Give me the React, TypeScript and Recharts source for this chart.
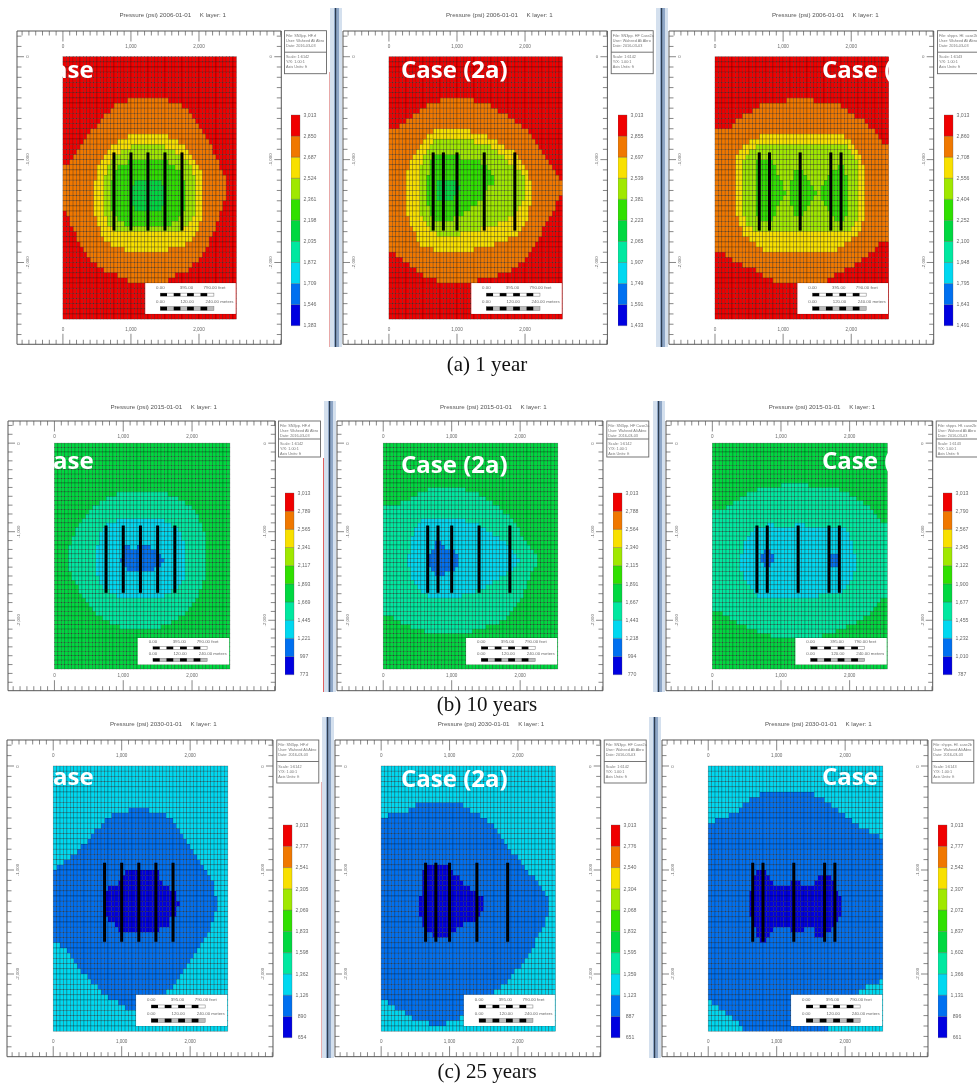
import React from "react";
import { ScatterChart, Scatter, XAxis, YAxis, ReferenceLine, ReferenceArea, BarChart, Bar } from "recharts";

type Region = { level: number; from: number; spans: number[][] };

const levelColors = ["#0000e0", "#0070f0", "#00d8f0", "#00e8a0", "#00d840", "#30e000", "#a0e800", "#f8e000", "#f07800", "#f00000"];
const levelKeys = ["l0", "l1", "l2", "l3", "l4", "l5", "l6", "l7", "l8", "l9"];
const xTicks = [-600,-500,-400,-300,-200,-100,0,100,200,300,400,500,600,700,800,900,1000,1100,1200,1300,1400,1500,1600,1700,1800,1900,2000,2100,2200,2300,2400,2500,2600,2700,2800,2900,3000,3100,3200];
const yTicks = [200,100,0,-100,-200,-300,-400,-500,-600,-700,-800,-900,-1000,-1100,-1200,-1300,-1400,-1500,-1600,-1700,-1800,-1900,-2000,-2100,-2200,-2300,-2400,-2500,-2600,-2700];
const xLabelled = [0, 1000, 2000];

const wellsCase1 = [750, 1000, 1250, 1500, 1750];
const wellsCase2a = [650, 800, 1000, 1400, 1850];
const wellsCase2b = [650, 800, 1250, 1700, 1850];

const legendA1 = ["1,383","1,546","1,709","1,872","2,035","2,198","2,361","2,524","2,687","2,850","3,013"];
const legendA2 = ["1,433","1,591","1,749","1,907","2,065","2,223","2,381","2,539","2,697","2,855","3,013"];
const legendA3 = ["1,491","1,643","1,795","1,948","2,100","2,252","2,404","2,556","2,708","2,860","3,013"];
const legendB1 = ["773","997","1,221","1,445","1,669","1,893","2,117","2,341","2,565","2,789","3,013"];
const legendB2 = ["770","994","1,218","1,443","1,667","1,891","2,115","2,340","2,564","2,788","3,013"];
const legendB3 = ["787","1,010","1,232","1,455","1,677","1,900","2,122","2,345","2,567","2,790","3,013"];
const legendC1 = ["654","890","1,126","1,362","1,598","1,833","2,069","2,305","2,541","2,777","3,013"];
const legendC2 = ["651","887","1,123","1,359","1,595","1,832","2,068","2,304","2,540","2,776","3,013"];
const legendC3 = ["661","896","1,131","1,366","1,602","1,837","2,072","2,307","2,542","2,777","3,013"];

const regionsA1: Region[] = [
  { level: 8, from: 8, spans: [[19,30],[15,34],[14,36],[12,37],[11,38],[10,39],[8,40],[7,41],[6,42],[5,43],[4,43],[3,44],[2,45],[0,45],[0,46],[0,47],[0,47],[0,47],[0,47],[0,47],[0,46],[0,46],[1,45],[2,45],[2,44],[3,44],[4,43],[4,42],[5,42],[6,41],[7,40],[8,39],[10,37],[12,36],[16,32],[19,30]] },
  { level: 7, from: 15, spans: [[19,30],[16,33],[14,35],[13,36],[12,37],[11,38],[10,39],[10,40],[10,40],[9,40],[9,40],[9,40],[9,40],[9,40],[9,40],[9,40],[10,40],[10,39],[11,39],[11,38],[12,37],[14,35],[18,30]] },
  { level: 6, from: 17, spans: [[20,29],[17,32],[15,34],[14,36],[13,37],[13,37],[12,38],[12,38],[12,38],[12,38],[12,38],[12,38],[12,38],[12,38],[13,37],[13,36],[15,34]] },
  { level: 5, from: 20, spans: [[19,30],[16,32],[15,34],[15,34],[14,35],[14,35],[14,35],[14,35],[14,35],[14,35],[15,34],[16,33],[18,31]] },
  { level: 4, from: 24, spans: [[21,28],[20,29],[20,29],[20,29],[20,29],[21,28]] },
];
const regionsA2: Region[] = [
  { level: 8, from: 8, spans: [[15,24],[11,29],[9,31],[7,34],[5,36],[3,38],[0,40],[0,41],[0,42],[0,43],[0,44],[0,45],[0,46],[0,47],[0,48],[0,49],[0,50],[0,50],[0,50],[0,49],[0,48],[0,48],[0,47],[0,46],[0,45],[0,44],[0,44],[0,43],[0,42],[0,41],[2,40],[4,39],[6,37],[8,35],[10,31],[14,25]] },
  { level: 7, from: 14, spans: [[13,23],[11,28],[10,31],[9,33],[8,36],[7,37],[6,38],[6,39],[5,40],[5,40],[5,41],[5,41],[5,41],[5,41],[5,41],[5,40],[5,40],[6,40],[6,39],[7,38],[8,37],[8,34],[9,30],[13,24]] },
  { level: 6, from: 16, spans: [[13,24],[12,29],[11,31],[10,33],[10,34],[9,36],[9,38],[9,39],[9,39],[9,39],[9,39],[9,39],[9,38],[9,37],[9,36],[10,34],[11,31],[12,26],[14,20]] },
  { level: 5, from: 19, spans: [[13,20],[12,26],[12,28],[12,29],[11,30],[11,30],[11,28],[11,27],[11,27],[11,25],[12,23],[12,21],[13,18]] },
  { level: 4, from: 24, spans: [[14,19],[14,20],[14,19],[14,18]] },
];
const regionsA3: Region[] = [
  { level: 8, from: 8, spans: [[21,28],[13,36],[11,38],[8,40],[6,43],[5,44],[0,46],[0,47],[0,48],[0,50],[0,50],[0,50],[0,50],[0,50],[0,50],[0,50],[0,50],[0,50],[0,50],[0,50],[0,50],[0,50],[0,50],[0,50],[0,50],[0,50],[0,50],[0,50],[0,47],[0,46],[3,44],[5,42],[8,40],[12,37],[14,34],[17,32]] },
  { level: 7, from: 15, spans: [[13,37],[10,39],[8,40],[7,41],[6,42],[6,42],[6,43],[6,43],[6,43],[6,43],[6,43],[6,43],[6,43],[6,43],[6,43],[6,43],[7,43],[7,42],[8,42],[8,41],[10,39],[12,37],[14,35]] },
  { level: 6, from: 17, spans: [[12,38],[10,39],[9,40],[8,41],[8,41],[8,41],[8,41],[8,41],[8,41],[8,41],[8,41],[8,41],[8,41],[8,41],[9,41],[9,40],[11,39]] },
  { level: 5, from: 20, spans: [[12,16],[12,17,36,37],[12,17,23,25,34,37],[12,18,23,26,33,38],[12,19,22,27,32,38],[12,19,22,28,31,38],[12,20,22,29,31,38],[12,19,22,28,31,38],[12,18,22,27,32,38],[12,17,23,26,33,38],[12,17,23,25,34,38],[13,16,35,37]] },
];
const regionsB1: Region[] = [
  { level: 3, from: 11, spans: [[18,32],[15,35],[13,37],[11,39],[10,40],[9,41],[8,41],[7,42],[6,42],[6,43],[5,43],[5,43],[4,43],[4,43],[4,43],[4,43],[4,43],[4,43],[5,43],[5,43],[6,42],[7,42],[7,41],[8,41],[9,40],[10,39],[11,38],[12,37],[14,35],[16,33],[19,30]] },
  { level: 2, from: 17, spans: [[18,31],[15,33],[14,35],[13,36],[13,36],[13,37],[12,37],[12,37],[12,37],[12,37],[12,37],[12,37],[12,37],[13,37],[13,36],[14,35],[16,33],[18,31]] },
  { level: 1, from: 23, spans: [[20,21,24,27],[20,29],[20,30],[19,31],[20,30],[21,28]] },
];
const regionsB2: Region[] = [
  { level: 3, from: 10, spans: [[13,23],[10,27],[8,29],[5,31],[0,33],[0,34],[0,36],[0,37],[0,38],[0,39],[0,39],[0,40],[0,41],[0,42],[0,43],[0,44],[0,44],[0,44],[0,43],[0,42],[0,42],[0,41],[0,41],[0,40],[0,40],[0,39],[0,38],[0,37],[0,36],[3,35],[5,33],[8,29],[12,25]] },
  { level: 2, from: 17, spans: [[11,23],[10,27],[9,29],[9,31],[8,33],[8,35],[8,36],[8,37],[7,38],[7,39],[7,38],[8,37],[8,35],[8,33],[9,31],[10,29],[11,26],[13,22]] },
  { level: 1, from: 22, spans: [[15,16],[15,17],[14,20],[13,21],[13,21],[13,21],[14,20],[15,17]] },
];
const regionsB3: Region[] = [
  { level: 3, from: 9, spans: [[20,27],[13,36],[10,39],[8,41],[6,43],[4,45],[0,46],[0,47],[0,48],[0,50],[0,50],[0,50],[0,50],[0,50],[0,50],[0,50],[0,50],[0,50],[0,50],[0,50],[0,50],[0,50],[0,50],[0,50],[0,50],[0,50],[0,48],[0,47],[0,46],[3,45],[5,43],[7,41],[10,38],[13,35],[17,31]] },
  { level: 2, from: 18, spans: [[16,17,24,26],[12,38],[11,39],[10,39],[9,40],[9,40],[9,40],[8,41],[8,41],[8,41],[8,41],[9,40],[9,40],[10,39],[11,38],[12,37],[13,30]] },
  { level: 1, from: 24, spans: [[15,16],[14,17,34,36],[14,17,34,36],[15,16,34,36]] },
];
const regionsC1: Region[] = [
  { level: 1, from: 8, spans: [[22,27],[17,32],[15,34],[14,35],[12,36],[11,37],[10,38],[8,39],[7,40],[5,41],[3,42],[1,43],[0,44],[0,45],[0,46],[0,46],[0,46],[0,47],[0,47],[0,47],[0,46],[0,46],[0,45],[0,45],[0,44],[0,43],[2,42],[4,41],[5,40],[6,39],[7,38],[8,37],[10,36],[11,35],[13,34],[14,32],[16,30],[19,29],[21,26]] },
  { level: 0, from: 20, spans: [[21,30],[20,30],[19,31],[16,33],[15,35],[15,35],[15,36],[15,35],[15,35],[16,33],[18,33],[19,30]] },
];
const regionsC2: Region[] = [
  { level: 1, from: 7, spans: [[10,23],[8,25],[2,28],[0,30],[0,32],[0,33],[0,34],[0,35],[0,36],[0,37],[0,39],[0,40],[0,41],[0,42],[0,44],[0,45],[0,46],[0,47],[0,48],[0,48],[0,48],[0,48],[0,47],[0,47],[0,46],[0,45],[0,44],[0,44],[0,43],[0,42],[0,41],[0,40],[0,38],[0,37],[0,36],[0,34],[0,32],[0,30],[2,28],[4,26],[7,25],[9,22],[14,18]] },
  { level: 0, from: 19, spans: [[13,19],[12,20],[12,22],[12,23],[12,25],[12,27],[11,29],[11,29],[11,29],[11,28],[12,27],[12,23],[13,21],[15,19]] },
];
const regionsC3: Region[] = [
  { level: 1, from: 5, spans: [[15,30],[12,33],[10,35],[9,37],[6,39],[2,41],[0,43],[0,46],[0,49],[0,50],[0,50],[0,50],[0,50],[0,50],[0,50],[0,50],[0,50],[0,50],[0,50],[0,50],[0,50],[0,50],[0,50],[0,50],[0,50],[0,50],[0,50],[0,50],[0,50],[0,50],[0,50],[0,50],[0,50],[0,50],[0,50],[0,50],[0,49],[0,45],[0,43],[0,42],[1,40],[3,40],[5,40],[7,40],[9,34],[10,34]] },
  { level: 0, from: 20, spans: [[14,16],[13,17,32,35],[13,18,24,26,31,36],[13,36],[12,37],[12,38],[12,38],[12,38],[12,38],[13,37],[13,36],[14,18,24,27,31,35],[14,17,31,33],[15,16]] },
];

const X_DOMAIN = [-675, 3210];
const Y_DOMAIN = [-2795, 250];
const INK = "#555";
const LABEL = "#6a6a6a";
const SANS = "'Liberation Sans', Arial, sans-serif";

function expand(background: number, regions: Region[]) {
  const grid: number[][] = [];
  for (let r = 0; r < 51; r++) grid.push(new Array(51).fill(background));
  regions.forEach((reg) => {
    reg.spans.forEach((row, i) => {
      for (let k = 0; k < row.length; k += 2) {
        for (let c = row[k]; c <= row[k + 1]; c++) grid[reg.from + i][c] = reg.level;
      }
    });
  });
  const byLevel: { x: number; y: number }[][] = levelColors.map(() => []);
  grid.forEach((row, r) => row.forEach((lvl, c) => byLevel[lvl].push({ x: (c + 0.5) * 50, y: -(r + 0.5) * 50 })));
  return byLevel;
}

const fmt = (v: number) => v.toLocaleString("en-US");

function ScaleBox(p: any) {
  const { x, y, width: w, height: h } = p;
  const fs = 4.4;
  const bar1 = [0, 1, 2, 3, 4, 5, 6, 7];
  const sx = w / 90;
  const sy = h / 30.7;
  const bx = x + 15 * sx;
  const bw = 53.3 * sx;
  return (
    <g fontFamily={SANS}>
      <rect x={x} y={y} width={w} height={h} fill="#fff" />
      <text x={x + 15 * sx} y={y + 5.8 * sy} fontSize={fs} fill={LABEL} textAnchor="middle">0.00</text>
      <text x={x + 41 * sx} y={y + 5.8 * sy} fontSize={fs} fill={LABEL} textAnchor="middle">395.00</text>
      <text x={x + 58 * sx} y={y + 5.8 * sy} fontSize={fs} fill={LABEL}>790.00 feet</text>
      <rect x={bx} y={y + 10 * sy} width={bw} height={3 * sy} fill="#fff" stroke="#777" strokeWidth={0.5} />
      {bar1.filter((i) => i % 2 === 0).map((i) => (
        <rect key={i} x={bx + (i * bw) / 8} y={y + 10 * sy} width={bw / 8} height={3 * sy} fill="#000" />
      ))}
      <text x={x + 15 * sx} y={y + 19.8 * sy} fontSize={fs} fill={LABEL} textAnchor="middle">0.00</text>
      <text x={x + 41.7 * sx} y={y + 19.8 * sy} fontSize={fs} fill={LABEL} textAnchor="middle">120.00</text>
      <text x={x + 60 * sx} y={y + 19.8 * sy} fontSize={fs} fill={LABEL}>240.00 meters</text>
      <rect x={bx} y={y + 23.5 * sy} width={bw} height={3.6 * sy} fill="#bbb" stroke="#777" strokeWidth={0.5} />
      {bar1.filter((i) => i % 2 === 0).map((i) => (
        <rect key={i} x={bx + (i * bw) / 8} y={y + 23.5 * sy} width={bw / 8} height={3.6 * sy} fill="#000" />
      ))}
    </g>
  );
}

type PanelProps = {
  left: number; right: number; top: number; bottom: number;
  background: number; regions: Region[]; wells: number[]; legend: string[];
  legendTop: number; legendBottom: number; date: string;
  file: string; scale: string; caseLabel: string; caseX: number; caseY: number; titleTop: number;
  infoHeight: number;
};

function Panel(p: PanelProps) {
  const W = p.right - p.left;
  const H = p.bottom - p.top;
  const cw = (50 * W) / (X_DOMAIN[1] - X_DOMAIN[0]);
  const ch = (50 * H) / (Y_DOMAIN[1] - Y_DOMAIN[0]);
  const byLevel = expand(p.background, p.regions);
  const ax = { xAxisId: "b", yAxisId: "l" };
  const xTick = (edge: "top" | "bottom") => (t: any) => {
    const v = t.payload.value;
    const labelled = xLabelled.includes(v);
    const y0 = edge === "top" ? 1 : H + 1;
    const dir = edge === "top" ? 1 : -1;
    return (
      <g>
        <line x1={t.x} x2={t.x} y1={y0} y2={y0 + dir * (labelled ? 10.5 : 4.5)} stroke={INK} strokeWidth={0.7} />
        {labelled ? (
          <text x={t.x} y={y0 + dir * 15 + 1.8} fontSize={4.6} fill={LABEL} textAnchor="middle" fontFamily={SANS}>{fmt(v)}</text>
        ) : null}
      </g>
    );
  };
  const yTick = (edge: "left" | "right") => (t: any) => {
    const v = t.payload.value;
    const major = v % 1000 === 0;
    const x0 = edge === "left" ? 1 : W + 1;
    const dir = edge === "left" ? 1 : -1;
    const tx = x0 + dir * 10.5;
    return (
      <g>
        <line x1={x0} x2={x0 + dir * (major ? 7 : 4.5)} y1={t.y} y2={t.y} stroke={INK} strokeWidth={0.7} />
        {major ? (
          <text x={tx} y={t.y} fontSize={4.4} fill={LABEL} textAnchor="middle" fontFamily={SANS}
            transform={v === 0 ? undefined : `rotate(-90 ${tx} ${t.y})`} dy={1.5}>{fmt(v)}</text>
        ) : null}
      </g>
    );
  };
  const legendRow: Record<string, string | number> = { cat: "p" };
  levelKeys.forEach((k) => { legendRow[k] = 1; });
  const legendTicks = p.legend.map((_, i) => i);
  const legendTick = (t: any) => (
    <text x={t.x + 10} y={t.y + 1.8} fontSize={5.2} fill={LABEL} textAnchor="middle" fontFamily={SANS}>{p.legend[t.payload.value]}</text>
  );
  const infoLeft = p.right + 3.5;
  const divider = p.infoHeight * 0.5;
  const infoFs = 3.8;
  return (
    <>
      <div style={{ position: "absolute", left: p.left - 1, top: p.top - 1 }}>
        <ScatterChart width={W + 2} height={H + 2} margin={{ top: 1, right: 1, bottom: 1, left: 1 }}>
          <XAxis xAxisId="b" type="number" dataKey="x" orientation="bottom" mirror domain={X_DOMAIN} ticks={xTicks} interval={0}
            allowDataOverflow tickLine={false} axisLine={{ stroke: INK, strokeWidth: 1 }} tick={xTick("bottom")} />
          <XAxis xAxisId="t" type="number" dataKey="x" orientation="top" mirror domain={X_DOMAIN} ticks={xTicks} interval={0}
            allowDataOverflow tickLine={false} axisLine={{ stroke: INK, strokeWidth: 1 }} tick={xTick("top")} />
          <YAxis yAxisId="l" type="number" dataKey="y" orientation="left" mirror domain={Y_DOMAIN} ticks={yTicks} interval={0}
            allowDataOverflow tickLine={false} axisLine={{ stroke: INK, strokeWidth: 1 }} tick={yTick("left")} />
          <YAxis yAxisId="r" type="number" dataKey="y" orientation="right" mirror domain={Y_DOMAIN} ticks={yTicks} interval={0}
            allowDataOverflow tickLine={false} axisLine={{ stroke: INK, strokeWidth: 1 }} tick={yTick("right")} />
          {byLevel.map((cells, lvl) =>
            cells.length === 0 ? null : (
              <Scatter key={lvl} {...ax} data={cells} isAnimationActive={false}
                shape={(s: any) => (
                  <rect x={s.cx - cw / 2} y={s.cy - ch / 2} width={cw} height={ch} fill={levelColors[lvl]}
                    stroke="#000" strokeOpacity={0.42} strokeWidth={0.55} />
                )} />
            )
          )}
          {p.wells.map((w) => (
            <ReferenceLine key={w} {...ax} segment={[{ x: w, y: -930 }, { x: w, y: -1690 }]} stroke="#000" strokeWidth={3}
              ifOverflow="visible" {...({ zIndex: 800 } as any)} />
          ))}
          <ReferenceArea {...ax} x1={1210} x2={2540} y1={-2200} y2={-2500} shape={ScaleBox} ifOverflow="visible" {...({ zIndex: 800 } as any)} />
        </ScatterChart>
      </div>
      <div style={{ position: "absolute", left: p.right + 10, top: p.legendTop - 6 }}>
        <BarChart width={39} height={p.legendBottom - p.legendTop + 12} data={[legendRow]} margin={{ top: 6, right: 0, bottom: 6, left: 0 }}
          barCategoryGap={0}>
          <XAxis dataKey="cat" hide />
          <YAxis orientation="right" type="number" domain={[0, 10]} ticks={legendTicks} interval={0} width={30}
            axisLine={false} tickLine={false} tickSize={0} tickMargin={0} tick={legendTick} />
          {levelKeys.map((k, i) => (
            <Bar key={k} dataKey={k} stackId="c" fill={levelColors[i]} stroke="#555" strokeWidth={0.3} isAnimationActive={false} />
          ))}
        </BarChart>
      </div>
      <svg style={{ position: "absolute", left: 0, top: 0, overflow: "hidden" }} width={977} height={1086}>
        <text x={p.left + 156} y={p.titleTop} fontSize={6.2} fill="#555" textAnchor="middle" fontFamily={SANS} xmlSpace="preserve">
          {`Pressure (psi) ${p.date}     K layer: 1`}
        </text>
        <rect x={infoLeft} y={p.top} width={42} height={p.infoHeight} fill="#fff" stroke="#666" strokeWidth={0.9} />
        <line x1={infoLeft} x2={infoLeft + 42} y1={p.top + divider} y2={p.top + divider} stroke="#666" strokeWidth={0.9} />
        <g fontSize={infoFs} fill="#777" fontFamily={SANS}>
          <text x={infoLeft + 1.5} y={p.top + 6}>{p.file}</text>
          <text x={infoLeft + 1.5} y={p.top + 11}>User: Waheed Ali Abro</text>
          <text x={infoLeft + 1.5} y={p.top + 16}>Date: 2016-03-03</text>
          <text x={infoLeft + 1.5} y={p.top + divider + 6}>{p.scale}</text>
          <text x={infoLeft + 1.5} y={p.top + divider + 11}>Y/X: 1.00:1</text>
          <text x={infoLeft + 1.5} y={p.top + divider + 16}>Axis Units: ft</text>
        </g>
        <text x={p.caseX} y={p.caseY} fontSize={24} fontWeight={700} fill="#fff" fontFamily="'Open Sans', sans-serif">{p.caseLabel}</text>
      </svg>
    </>
  );
}

const file1 = "File: SN3pp. HF.rf";
const file2 = "File: SN3pp. HF Case2a";
const file3 = "File: shpps. Hf. case2b";

const panels: PanelProps[] = [
  { left: 16.7, right: 281, top: 30.7, bottom: 344, background: 9, regions: regionsA1, wells: wellsCase1, legend: legendA1, legendTop: 115, legendBottom: 325.7, date: "2006-01-01", file: file1, scale: "Scale: 1:6142", caseLabel: "ase", caseX: 53, caseY: 78, titleTop: 17, infoHeight: 43 },
  { left: 343.3, right: 607.7, top: 30.7, bottom: 344, background: 9, regions: regionsA2, wells: wellsCase2a, legend: legendA2, legendTop: 115, legendBottom: 325.7, date: "2006-01-01", file: file2, scale: "Scale: 1:6142", caseLabel: "Case (2a)", caseX: 401, caseY: 78, titleTop: 17, infoHeight: 43 },
  { left: 669.3, right: 934, top: 30.7, bottom: 344, background: 9, regions: regionsA3, wells: wellsCase2b, legend: legendA3, legendTop: 115, legendBottom: 325.7, date: "2006-01-01", file: file3, scale: "Scale: 1:6143", caseLabel: "Case (", caseX: 822, caseY: 78, titleTop: 17, infoHeight: 43 },
  { left: 7.7, right: 275, top: 421, bottom: 690.7, background: 4, regions: regionsB1, wells: wellsCase1, legend: legendB1, legendTop: 493.3, legendBottom: 675, date: "2015-01-01", file: file1, scale: "Scale: 1:6142", caseLabel: "ase", caseX: 53, caseY: 469, titleTop: 409, infoHeight: 36 },
  { left: 337.3, right: 603.3, top: 421, bottom: 690.7, background: 4, regions: regionsB2, wells: wellsCase2a, legend: legendB2, legendTop: 493.3, legendBottom: 675, date: "2015-01-01", file: file2, scale: "Scale: 1:6142", caseLabel: "Case (2a)", caseX: 401, caseY: 473, titleTop: 409, infoHeight: 36 },
  { left: 666, right: 932.7, top: 421, bottom: 690.7, background: 4, regions: regionsB3, wells: wellsCase2b, legend: legendB3, legendTop: 493.3, legendBottom: 675, date: "2015-01-01", file: file3, scale: "Scale: 1:6143", caseLabel: "Case (", caseX: 822, caseY: 469, titleTop: 409, infoHeight: 36 },
  { left: 7.3, right: 273.3, top: 740, bottom: 1056.7, background: 2, regions: regionsC1, wells: wellsCase1, legend: legendC1, legendTop: 825, legendBottom: 1037.7, date: "2030-01-01", file: file1, scale: "Scale: 1:6142", caseLabel: "ase", caseX: 53, caseY: 785, titleTop: 726, infoHeight: 43 },
  { left: 335, right: 600.7, top: 740, bottom: 1056.7, background: 2, regions: regionsC2, wells: wellsCase2a, legend: legendC2, legendTop: 825, legendBottom: 1037.7, date: "2030-01-01", file: file2, scale: "Scale: 1:6142", caseLabel: "Case (2a)", caseX: 401, caseY: 787, titleTop: 726, infoHeight: 43 },
  { left: 662.3, right: 928.3, top: 740, bottom: 1056.7, background: 2, regions: regionsC3, wells: wellsCase2b, legend: legendC3, legendTop: 825, legendBottom: 1037.7, date: "2030-01-01", file: file3, scale: "Scale: 1:6143", caseLabel: "Case", caseX: 822, caseY: 785, titleTop: 726, infoHeight: 43 },
];

const captions = [
  { text: "(a) 1 year", y: 371 },
  { text: "(b) 10 years", y: 711 },
  { text: "(c) 25 years", y: 1078 },
];

const dividers = [
  { x: 330, top: 8, bottom: 347, pinkTop: 72, pink: "#e8a8a8" },
  { x: 656, top: 8, bottom: 347, pinkTop: 8, pink: "none" },
  { x: 324, top: 401, bottom: 692, pinkTop: 458, pink: "#e06060" },
  { x: 653, top: 401, bottom: 692, pinkTop: 401, pink: "none" },
  { x: 322, top: 717, bottom: 1058, pinkTop: 782, pink: "#e8b0b0" },
  { x: 649, top: 717, bottom: 1058, pinkTop: 717, pink: "none" },
];

export default function App() {
  return (
    <div style={{ position: "absolute", left: 0, top: 0, width: 977, height: 1086, overflow: "hidden", background: "#fff", filter: "blur(0.45px)" }}>
      <svg style={{ position: "absolute", left: 0, top: 0 }} width={977} height={1086}>
        {dividers.map((d) => (
          <g key={d.x + "-" + d.top}>
            <rect x={d.x} y={d.top} width={12} height={d.bottom - d.top} fill="#d4e0ee" />
            <rect x={d.x + 4} y={d.top} width={5} height={d.bottom - d.top} fill="#8ea6c6" />
            <rect x={d.x + 5} y={d.top} width={1.2} height={d.bottom - d.top} fill="#2c3c50" />
            <rect x={d.x - 1} y={d.pinkTop} width={1} height={d.bottom - d.pinkTop} fill={d.pink} />
          </g>
        ))}
      </svg>
      {panels.map((p) => (
        <Panel key={p.left + "-" + p.top} {...p} />
      ))}
      <svg style={{ position: "absolute", left: 0, top: 0 }} width={977} height={1086}>
        {captions.map((c) => (
          <text key={c.text} x={487} y={c.y} fontSize={21} fill="#111" textAnchor="middle" fontFamily="'Liberation Serif', serif">{c.text}</text>
        ))}
      </svg>
    </div>
  );
}
